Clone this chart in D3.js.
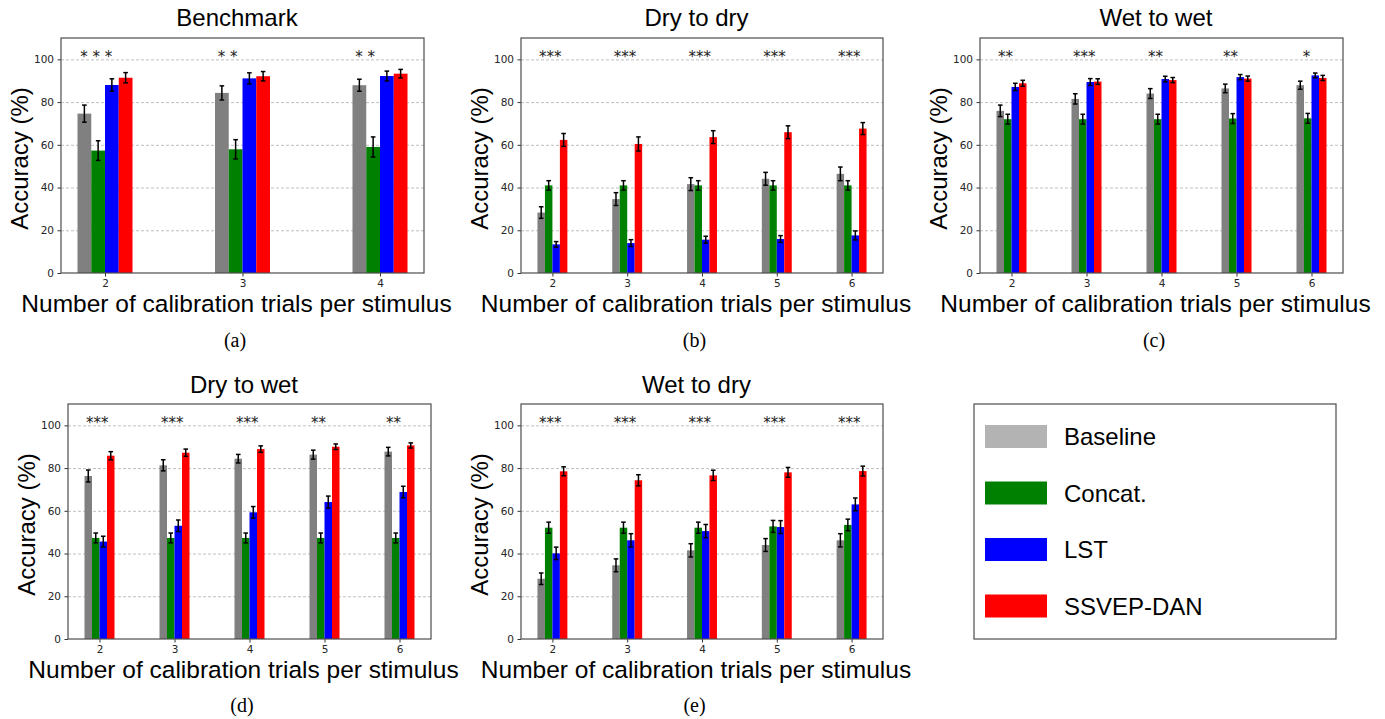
<!DOCTYPE html>
<html>
<head>
<meta charset="utf-8">
<script src="https://cdn.jsdelivr.net/npm/d3@7"></script>
<style>
  body { margin: 0; background: #fff; }
</style>
</head>
<body>
<script>
// ---- data ----
const methods = ["Baseline", "Concat.", "LST", "SSVEP-DAN"];
const barColors = ["#808080", "#008000", "#0000ff", "#ff0000"];
const legendColors = ["#b3b3b3", "#008000", "#0000ff", "#ff0000"];

const trials3 = [2, 3, 4];
const trials5 = [2, 3, 4, 5, 6];
const yTicks = [0, 20, 40, 60, 80, 100];

// one row per method: Baseline, Concat., LST, SSVEP-DAN
const benchMean = [[74.6, 84.3, 87.9], [57.3, 57.9, 59.0], [88.0, 91.1, 92.2], [91.4, 92.1, 93.3]];
const benchErr  = [[4.0, 3.3, 2.8], [4.6, 4.5, 4.7], [2.9, 2.6, 2.3], [2.4, 2.2, 2.0]];
const benchSig  = ["* * *", "* *", "* *"];

const d2dMean = [[28.3, 34.6, 41.6, 44.1, 46.4], [41.0, 41.0, 41.0, 41.0, 41.0], [13.4, 14.0, 15.6, 15.9, 17.6], [62.3, 60.4, 63.6, 65.9, 67.6]];
const d2dErr  = [[2.7, 3.0, 3.0, 3.0, 3.2], [2.2, 2.2, 2.2, 2.2, 2.2], [1.3, 1.6, 1.6, 1.6, 2.1], [3.0, 3.3, 3.0, 3.0, 2.8]];
const d2dSig  = ["***", "***", "***", "***", "***"];

const w2wMean = [[75.9, 81.5, 84.0, 86.4, 87.9], [72.0, 72.0, 72.0, 72.3, 72.4], [87.1, 89.4, 90.8, 91.7, 92.5], [88.8, 89.6, 90.3, 91.0, 91.3]];
const w2wErr  = [[2.7, 2.4, 2.3, 2.0, 1.9], [2.3, 2.3, 2.3, 2.3, 2.3], [1.7, 1.6, 1.3, 1.2, 1.1], [1.4, 1.3, 1.2, 1.2, 1.2]];
const w2wSig  = ["**", "***", "**", "**", "\u00a0*"];

const d2wMean = [[76.3, 81.3, 84.4, 86.3, 87.7], [47.3, 47.3, 47.3, 47.3, 47.3], [45.6, 53.0, 59.3, 64.1, 68.8], [85.8, 87.2, 88.9, 90.0, 90.6]];
const d2wErr  = [[2.8, 2.6, 2.0, 2.1, 2.0], [2.3, 2.3, 2.3, 2.3, 2.3], [2.5, 2.7, 2.7, 2.8, 2.7], [1.9, 1.7, 1.5, 1.3, 1.2]];
const d2wSig  = ["***", "***", "***", "**", "**"];

const w2dMean = [[28.2, 34.5, 41.5, 44.0, 46.2], [52.1, 52.1, 52.1, 52.7, 53.4], [40.1, 46.2, 50.5, 52.4, 63.0], [78.5, 74.3, 76.6, 78.0, 78.6]];
const w2dErr  = [[2.7, 3.0, 3.1, 3.0, 3.1], [2.6, 2.6, 2.6, 2.8, 2.7], [2.9, 3.1, 3.1, 3.0, 3.0], [2.1, 2.6, 2.4, 2.3, 2.3]];
const w2dSig  = ["***", "***", "***", "***", "***"];

// ---- layout ----
const W = 1385, H = 719;
const sans = "'Liberation Sans', Arial, sans-serif";
const mpl = "'DejaVu Sans', sans-serif";

const svg = d3.select("body").append("svg")
  .attr("width", W).attr("height", H)
  .attr("viewBox", [0, 0, W, H]);

const panels = [
  {title: "Benchmark",  tag: "(a)", cats: trials3, mean: benchMean, err: benchErr, sig: benchSig, box: [61, 424, 38, 273], titleY: 26, labelY: 312, tagY: 347},
  {title: "Dry to dry", tag: "(b)", cats: trials5, mean: d2dMean, err: d2dErr, sig: d2dSig, box: [521, 883, 38, 273], titleY: 26, labelY: 312, tagY: 347},
  {title: "Wet to wet", tag: "(c)", cats: trials5, mean: w2wMean, err: w2wErr, sig: w2wSig, box: [980, 1343, 38, 273], titleY: 26, labelY: 312, tagY: 347},
  {title: "Dry to wet", tag: "(d)", cats: trials5, mean: d2wMean, err: d2wErr, sig: d2wSig, box: [68, 431, 404, 639], titleY: 393, labelY: 678, tagY: 712},
  {title: "Wet to dry", tag: "(e)", cats: trials5, mean: w2dMean, err: w2dErr, sig: w2dSig, box: [521, 883, 404, 639], titleY: 393, labelY: 678, tagY: 712}
];

const barW = 0.1;

panels.forEach(p => {
  const [x0, x1, y0, y1] = p.box;
  const lo = p.cats[0] - 2 * barW, hi = p.cats[p.cats.length - 1] + 2 * barW;
  const pad = (hi - lo) * 0.05;
  const x = d3.scaleLinear().domain([lo - pad, hi + pad]).range([x0, x1]);
  const y = d3.scaleLinear().domain([0, 110]).range([y1, y0]);
  const cx = (x0 + x1) / 2;

  const g = svg.append("g");

  // grid
  g.append("g")
    .attr("transform", `translate(${x0},0)`)
    .call(d3.axisLeft(y).tickValues(yTicks.slice(1)).tickSize(-(x1 - x0)).tickFormat(""))
    .call(s => s.select(".domain").remove())
    .call(s => s.selectAll("line").attr("stroke", "#b0b0b0").attr("stroke-width", 0.8).attr("stroke-dasharray", "3,2"));

  // bars
  p.mean.forEach((row, k) => {
    g.append("g").selectAll("rect")
      .data(row)
      .join("rect")
      .attr("x", (d, i) => x(p.cats[i] + (k - 2) * barW))
      .attr("width", x(barW) - x(0))
      .attr("y", d => y(d))
      .attr("height", d => y(0) - y(d))
      .attr("fill", barColors[k]);
  });

  // error bars
  p.mean.forEach((row, k) => {
    const eg = g.append("g").attr("stroke", "#000").attr("stroke-width", 1.5);
    row.forEach((m, i) => {
      const e = p.err[k][i];
      const bx = x(p.cats[i] + (k - 2) * barW + barW / 2);
      eg.append("line").attr("x1", bx).attr("x2", bx).attr("y1", y(m - e)).attr("y2", y(m + e));
      eg.append("line").attr("x1", bx - 2.3).attr("x2", bx + 2.3).attr("y1", y(m - e)).attr("y2", y(m - e));
      eg.append("line").attr("x1", bx - 2.3).attr("x2", bx + 2.3).attr("y1", y(m + e)).attr("y2", y(m + e));
    });
  });

  // significance marks
  g.append("g").selectAll("text")
    .data(p.sig)
    .join("text")
    .attr("x", (d, i) => x(p.cats[i] - 0.18))
    .attr("y", y(100) + 3)
    .attr("font-family", mpl)
    .attr("font-size", 15)
    .attr("fill", "#222")
    .attr("xml:space", "preserve")
    .text(d => d);

  // axes
  g.append("g")
    .attr("transform", `translate(${x0},0)`)
    .call(d3.axisLeft(y).tickValues(yTicks).tickSize(3.5).tickPadding(3.5))
    .call(s => s.select(".domain").remove())
    .call(s => s.selectAll("line").attr("stroke", "#333"))
    .call(s => s.selectAll("text").attr("font-family", mpl).attr("font-size", 10.5).attr("fill", "#262626"));

  g.append("g")
    .attr("transform", `translate(0,${y1})`)
    .call(d3.axisBottom(x).tickValues(p.cats).tickSize(3.5).tickPadding(3.5).tickFormat(d3.format("d")))
    .call(s => s.select(".domain").remove())
    .call(s => s.selectAll("line").attr("stroke", "#333"))
    .call(s => s.selectAll("text").attr("font-family", mpl).attr("font-size", 10.5).attr("fill", "#262626"));

  // frame
  g.append("rect")
    .attr("x", x0).attr("y", y0)
    .attr("width", x1 - x0).attr("height", y1 - y0)
    .attr("fill", "none").attr("stroke", "#4d4d4d").attr("stroke-width", 1.2);

  // texts
  g.append("text")
    .attr("x", cx - 5.5).attr("y", p.titleY)
    .attr("text-anchor", "middle")
    .attr("font-family", sans).attr("font-size", 24)
    .text(p.title);

  g.append("text")
    .attr("x", cx - 6).attr("y", p.labelY)
    .attr("text-anchor", "middle")
    .attr("font-family", sans).attr("font-size", 24.5)
    .text("Number of calibration trials per stimulus");

  g.append("text")
    .attr("transform", `translate(${x0 - 33},${(y0 + y1) / 2 + 3}) rotate(-90)`)
    .attr("text-anchor", "middle")
    .attr("font-family", sans).attr("font-size", 24)
    .text("Accuracy (%)");

  g.append("text")
    .attr("x", cx - 7.5).attr("y", p.tagY)
    .attr("text-anchor", "middle")
    .attr("font-family", "'Liberation Serif', 'Times New Roman', serif").attr("font-size", 20)
    .text(p.tag);
});

// ---- legend ----
const leg = svg.append("g");
leg.append("rect")
  .attr("x", 974).attr("y", 404).attr("width", 362).attr("height", 235)
  .attr("fill", "#fff").attr("stroke", "#4d4d4d").attr("stroke-width", 1.2);

const ly = d3.scalePoint().domain(methods).range([436.5, 606]);
const items = leg.selectAll("g.item")
  .data(methods)
  .join("g")
  .attr("class", "item")
  .attr("transform", d => `translate(0,${ly(d)})`);

items.append("rect")
  .attr("x", 985).attr("y", -11.5).attr("width", 62).attr("height", 23)
  .attr("fill", (d, i) => legendColors[i]);

items.append("text")
  .attr("x", 1064).attr("y", 8.5)
  .attr("font-family", sans).attr("font-size", 24)
  .text(d => d);
</script>
</body>
</html>
